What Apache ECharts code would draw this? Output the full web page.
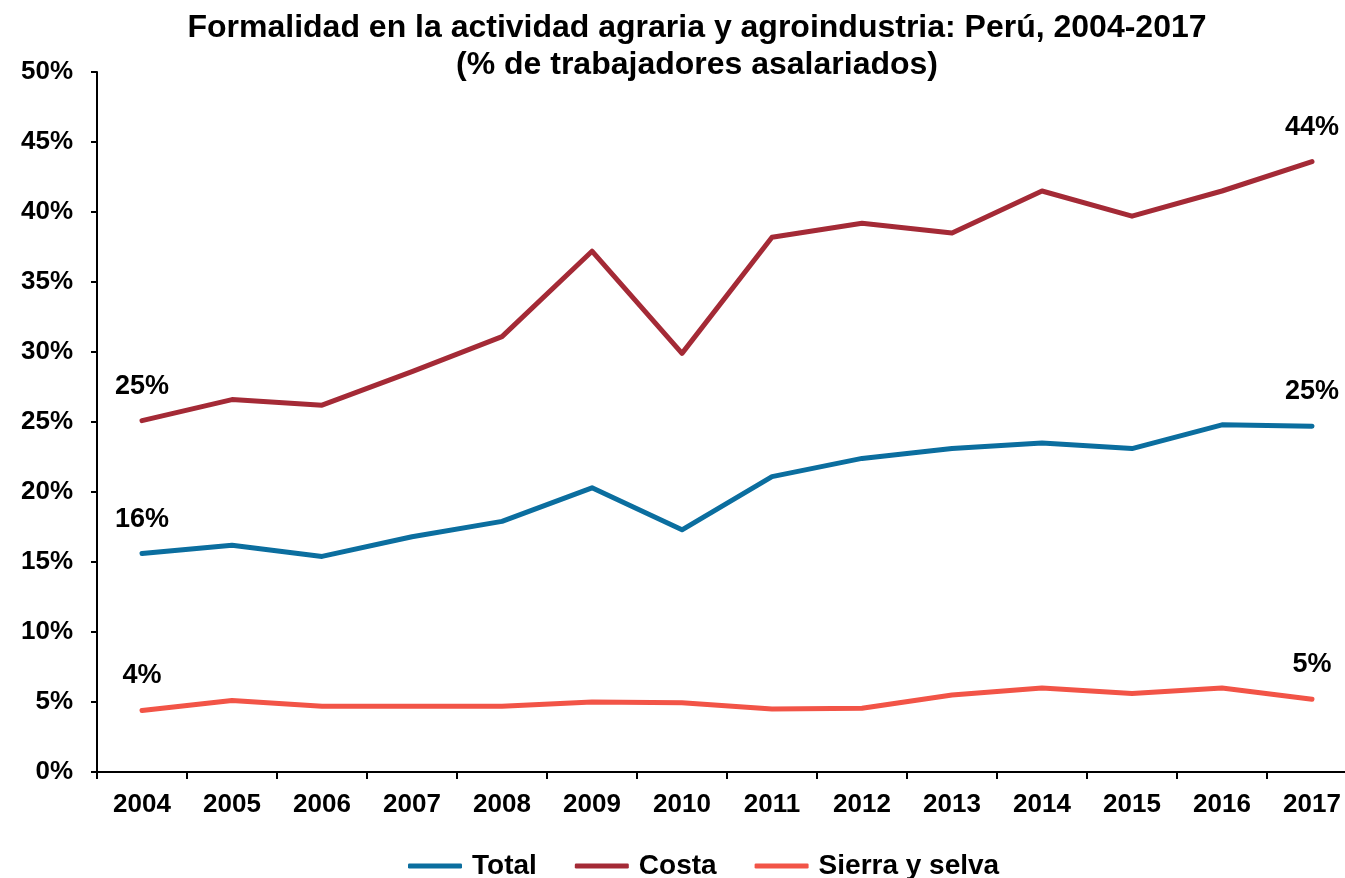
<!DOCTYPE html>
<html>
<head>
<meta charset="utf-8">
<title>Formalidad agraria</title>
<script src="https://cdn.jsdelivr.net/npm/echarts@6/dist/echarts.min.js"></script>
<style>
  html, body { margin: 0; padding: 0; background: #fff; overflow: hidden; }
  /* el gráfico original se corta por la derecha */
  #chart { width: 1360px; height: 878px; }
</style>
</head>
<body>
<div id="chart"></div>
<script>
var years = ['2004','2005','2006','2007','2008','2009','2010','2011','2012','2013','2014','2015','2016','2017'];
var total = [15.6, 16.2, 15.4, 16.8, 17.9, 20.3, 17.3, 21.1, 22.4, 23.1, 23.5, 23.1, 24.8, 24.7];
var costa = [25.1, 26.6, 26.2, 28.6, 31.1, 37.2, 29.9, 38.2, 39.2, 38.5, 41.5, 39.7, 41.5, 43.6];
var sierra = [4.4, 5.1, 4.7, 4.7, 4.7, 5.0, 4.95, 4.5, 4.55, 5.5, 6.0, 5.6, 6.0, 5.2];

var font = '"Liberation Sans", Arial, sans-serif';

// etiqueta solo en el primer y ultimo punto
function withEnds(arr){
    return arr.map(function(v, i){
        var show = (i === 0 || i === arr.length - 1);
        return { value: v, label: { show: show } };
    });
}

function serie(name, data, color){
    return {
        name: name,
        type: 'line',
        data: withEnds(data),
        showSymbol: true,
        showAllSymbol: true,
        symbol: 'circle',
        symbolSize: 0.1,
        itemStyle: { color: color },
        lineStyle: { color: color, width: 5, cap: 'round', join: 'round' },
        label: {
            position: 'top',
            distance: 21,
            color: '#000',
            fontFamily: font,
            fontWeight: 'bold',
            fontSize: 27,
            formatter: function(p){ return Math.round(p.value) + '%'; }
        },
        emphasis: { disabled: true }
    };
}

var chart = echarts.init(document.getElementById('chart'));
var option = {
    backgroundColor: '#fff',
    animation: false,
    title: {
        text: 'Formalidad en la actividad agraria y agroindustria: Perú, 2004-2017\n(% de trabajadores asalariados)',
        left: 692,
        top: 5,
        textAlign: 'center',
        textStyle: {
            fontFamily: font,
            fontWeight: 'bold',
            fontSize: 32,
            lineHeight: 37,
            color: '#000'
        }
    },
    legend: {
        left: 403,
        top: 847,
        itemWidth: 54,
        itemHeight: 5,
        itemGap: 38,
        icon: 'roundRect',
        textStyle: { fontFamily: font, fontWeight: 'bold', fontSize: 28, color: '#000', padding: [0, 0, 0, 5] },
        data: ['Total', 'Costa', 'Sierra y selva']
    },
    grid: { left: 97, right: 3, top: 72, bottom: 106, containLabel: false },
    xAxis: {
        type: 'category',
        data: years,
        boundaryGap: true,
        axisLine: { lineStyle: { color: '#000', width: 2 } },
        axisTick: { show: true, inside: false, length: 7, interval: 0, lineStyle: { color: '#000', width: 2 } },
        axisLabel: { fontFamily: font, fontWeight: 'bold', fontSize: 26, color: '#000', margin: 20, interval: 0 },
        splitLine: { show: false }
    },
    yAxis: {
        type: 'value',
        min: 0,
        max: 50,
        interval: 5,
        axisLine: { show: true, lineStyle: { color: '#000', width: 2 } },
        axisTick: { show: true, inside: false, length: 6, lineStyle: { color: '#000', width: 2 } },
        axisLabel: { fontFamily: font, fontWeight: 'bold', fontSize: 26, color: '#000', margin: 24, formatter: '{value}%' },
        splitLine: { show: false }
    },
    series: [
        serie('Total', total, '#0B6E9F'),
        serie('Costa', costa, '#A42A36'),
        serie('Sierra y selva', sierra, '#F25447')
    ]
};
chart.setOption(option);
</script>
</body>
</html>
